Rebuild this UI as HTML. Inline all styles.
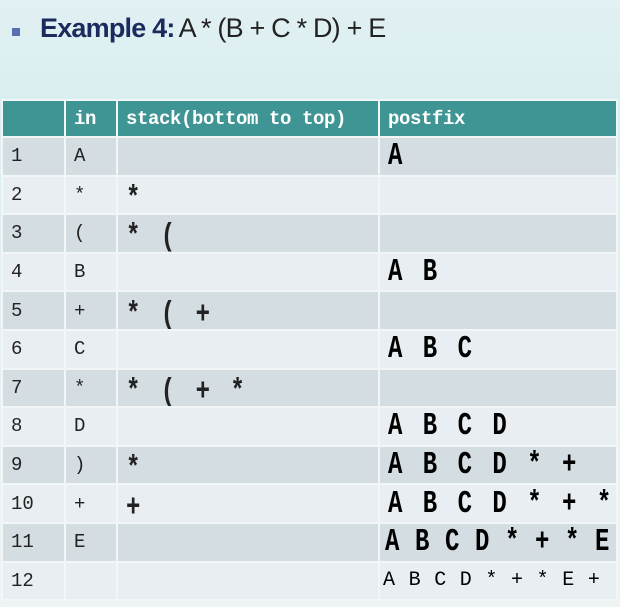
<!DOCTYPE html>
<html><head><style>
body{margin:0;width:620px;height:607px;overflow:hidden;background:linear-gradient(#e2f1f3,#d9eef0 100px,#eef3f4);font-family:"Liberation Sans",sans-serif;position:relative}
.title{position:absolute;left:40px;top:13px;font-size:27px;color:#1b2b5e;letter-spacing:-0.8px}
.title b{font-weight:bold}
.title span{font-weight:normal;color:#222;margin-left:4px}
.bul{position:absolute;left:12px;top:28px;width:8px;height:8px;background:#5a6db0}
table{position:absolute;left:1px;top:99px;border-collapse:collapse;width:617px;table-layout:fixed}
td{border:2px solid #f2f6f7;padding:0 0 0 8px;height:36.6px;line-height:20px;font-family:"Liberation Mono",monospace;font-size:19px;color:#222;white-space:nowrap;overflow:hidden}
tr.h td{background:#3f9494;color:#fff;font-weight:bold;height:35px;font-size:19px;letter-spacing:-0.4px}
tr.o td{background:#d3dde2}
tr.e td{background:#e8eef1}
.s{font-weight:bold;font-size:24px;letter-spacing:3px}
.p{font-weight:bold;font-size:24px;color:#000;letter-spacing:3px}
.p>i,.s>i{display:inline-block;font-style:normal;transform:scaleY(1.3);transform-origin:50% 60%;position:relative;top:2px}
.s>i{top:6px}
.p12{font-size:20px;color:#000;letter-spacing:0.8px}
</style></head><body>
<div class="bul"></div>
<div class="title"><b>Example 4:</b><span>A * (B + C * D) + E</span></div>
<table>
<colgroup><col style="width:63px"><col style="width:52px"><col style="width:262px"><col></colgroup>
<tr class="h"><td></td><td>in</td><td>stack(bottom to top)</td><td>postfix</td></tr>
<tr class="o"><td>1</td><td>A</td><td></td><td class="p"><i>A</i></td></tr>
<tr class="e"><td>2</td><td>*</td><td class="s"><i>*</i></td><td></td></tr>
<tr class="o"><td>3</td><td>(</td><td class="s"><i>* (</i></td><td></td></tr>
<tr class="e"><td>4</td><td>B</td><td></td><td class="p"><i>A B</i></td></tr>
<tr class="o"><td>5</td><td>+</td><td class="s"><i>* ( +</i></td><td></td></tr>
<tr class="e"><td>6</td><td>C</td><td></td><td class="p"><i>A B C</i></td></tr>
<tr class="o"><td>7</td><td>*</td><td class="s"><i>* ( + *</i></td><td></td></tr>
<tr class="e"><td>8</td><td>D</td><td></td><td class="p"><i>A B C D</i></td></tr>
<tr class="o"><td>9</td><td>)</td><td class="s"><i>*</i></td><td class="p"><i>A B C D * +</i></td></tr>
<tr class="e"><td>10</td><td>+</td><td class="s"><i>+</i></td><td class="p"><i>A B C D * + *</i></td></tr>
<tr class="o"><td>11</td><td>E</td><td></td><td class="p" style="letter-spacing:0.6px;padding-left:5px"><i>A B C D * + * E</i></td></tr>
<tr class="e"><td>12</td><td></td><td></td><td class="p12" style="padding-left:3px">A B C D * + * E +</td></tr>
</table>
</body></html>
